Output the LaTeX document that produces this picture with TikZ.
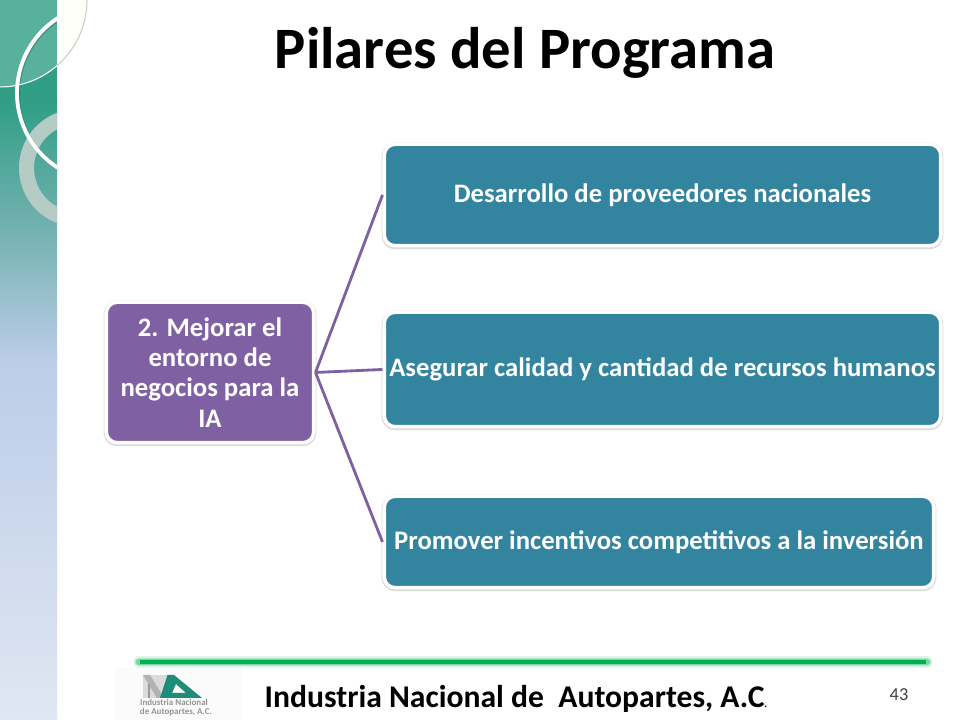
\documentclass[tikz,border=0pt]{standalone}
\usepackage{fontspec}
\setmainfont{Carlito}
\usetikzlibrary{shadows}
\definecolor{tealpilar}{HTML}{32849F}
\definecolor{purplepilar}{HTML}{7F61A3}
\definecolor{greenbar}{HTML}{00B050}
\definecolor{greenlogo}{HTML}{1E8C78}
\definecolor{lateralA}{HTML}{2F9E85}
\definecolor{lateralB}{HTML}{7AB3B5}
\definecolor{lateralC}{HTML}{BBCDE8}
\definecolor{lateralD}{HTML}{E0E6F3}
\tikzset{
  pilarbox/.style={draw=white, line width=1pt, rounded corners=0.11cm, text=white, align=center,
    inner sep=0pt, font=\bfseries\fontsize{7.6}{8.6}\selectfont,
    drop shadow={shadow xshift=0pt, shadow yshift=-0.25pt, opacity=0.14, fill=black, draw=black, line width=1.5pt}},
  pilarline/.style={draw=purplepilar, line width=0.8pt}
}
\begin{document}
\begin{tikzpicture}
\useasboundingbox (0,0) rectangle (9.6,7.2);
\fill[white] (0,0) rectangle (9.6,7.2);

% Barra lateral
\fill[lateralA] (0,6.2) rectangle (0.57,7.2);
\fill[top color=lateralA, bottom color=lateralB] (0,4.8) rectangle (0.57,6.21);
\fill[top color=lateralB, bottom color=lateralC] (0,3.6) rectangle (0.57,4.81);
\fill[top color=lateralC, bottom color=lateralD] (0,0) rectangle (0.57,3.61);

% Adornos
\begin{scope}
\clip (0,0) rectangle (0.57,7.2);
\fill[even odd rule, fill={rgb,255:red,181;green,204;blue,196}] (0.78,5.52) circle (0.59) (0.78,5.52) circle (0.44);
\fill[white, opacity=0.2] (0,7.2) -- (0.87,7.2) arc (0:-90:0.87) -- cycle;
\draw[black, opacity=0.2, line width=1.1pt] (1.07,6.26) circle (0.89);
\draw[white, line width=1.1pt] (1.06,6.27) circle (0.89);
\end{scope}
\begin{scope}
\clip (0.57,6.3) rectangle (1,7.2);
\fill[white!98!yellow] (0,7.2) -- (0.87,7.2) arc (0:-90:0.87) -- cycle;
\draw[black!20, line width=0.3pt] (0.87,7.2) arc (0:-90:0.87);
\end{scope}
\draw[white, line width=0.3pt] (0,6.33) arc (-90:-49:0.87);

% Titulo
\node (titulo) at (5.25,6.67) {\bfseries\fontsize{16.7}{20}\selectfont Pilares del Programa};

% Cajas
\node[pilarbox, fill=purplepilar, minimum width=2.075cm, minimum height=1.405cm] (mejorar) at (2.10,3.475) {2. Mejorar el\\entorno de\\negocios para la\\IA};
\node[pilarbox, fill=tealpilar, minimum width=5.565cm, minimum height=1.015cm] (proveedores) at (6.625,5.25) {Desarrollo de proveedores nacionales};
\node[pilarbox, fill=tealpilar, minimum width=5.565cm, minimum height=1.145cm] (recursos) at (6.625,3.505) {Asegurar calidad y cantidad de recursos humanos};
\node[pilarbox, fill=tealpilar, minimum width=5.495cm, minimum height=0.915cm] (incentivos) at (6.59,1.78) {Promover incentivos competitivos a la inversión};

% Conectores
\draw[pilarline] (mejorar.east) -- (proveedores.west);
\draw[pilarline] (mejorar.east) -- (recursos.west);
\draw[pilarline] (mejorar.east) -- (incentivos.west);

% Barra verde
\foreach \ancho/\opac in {3.2pt/0.12, 2.4pt/0.2, 1.8pt/0.3}
  \draw[greenbar, line width=\ancho, opacity=\opac, line cap=round] (1.39,0.58) -- (9.27,0.58);
\draw[greenbar, line width=1.2pt] (1.4,0.58) -- (9.26,0.58);

% Logo
\fill[black!1.5] (1.15,0) rectangle (2.42,0.52);
\fill[black!14] (1.43,0.22) rectangle (1.67,0.45);
\fill[black!30] (1.43,0.45) -- (1.5,0.45) -- (1.64,0.22) -- (1.57,0.22) -- cycle;
\fill[black!40] (1.485,0.22) rectangle (1.5,0.36);
\fill[even odd rule, greenlogo] (1.6,0.22) -- (1.675,0.45) -- (1.74,0.45) -- (2.02,0.22) -- cycle (1.72,0.27) -- (1.76,0.36) -- (1.86,0.27) -- cycle;
\node[text=black!42, align=center, inner sep=0pt, font=\bfseries\fontsize{2.55}{2.6}\selectfont] (logotexto) at (1.74,0.12) {Industria Nacional\\\ \ de Autopartes, A.C.};

% Pie
\node[anchor=west, inner sep=0pt] (pie) at (2.64,0.215) {\bfseries\fontsize{9}{10}\selectfont Industria Nacional de\ \ Autopartes, A.C\fontsize{3}{3}\selectfont.};
\node[text=black!75, font=\fontsize{5.2}{6}\selectfont] (numero) at (8.99,0.25) {43};
\end{tikzpicture}
\end{document}
